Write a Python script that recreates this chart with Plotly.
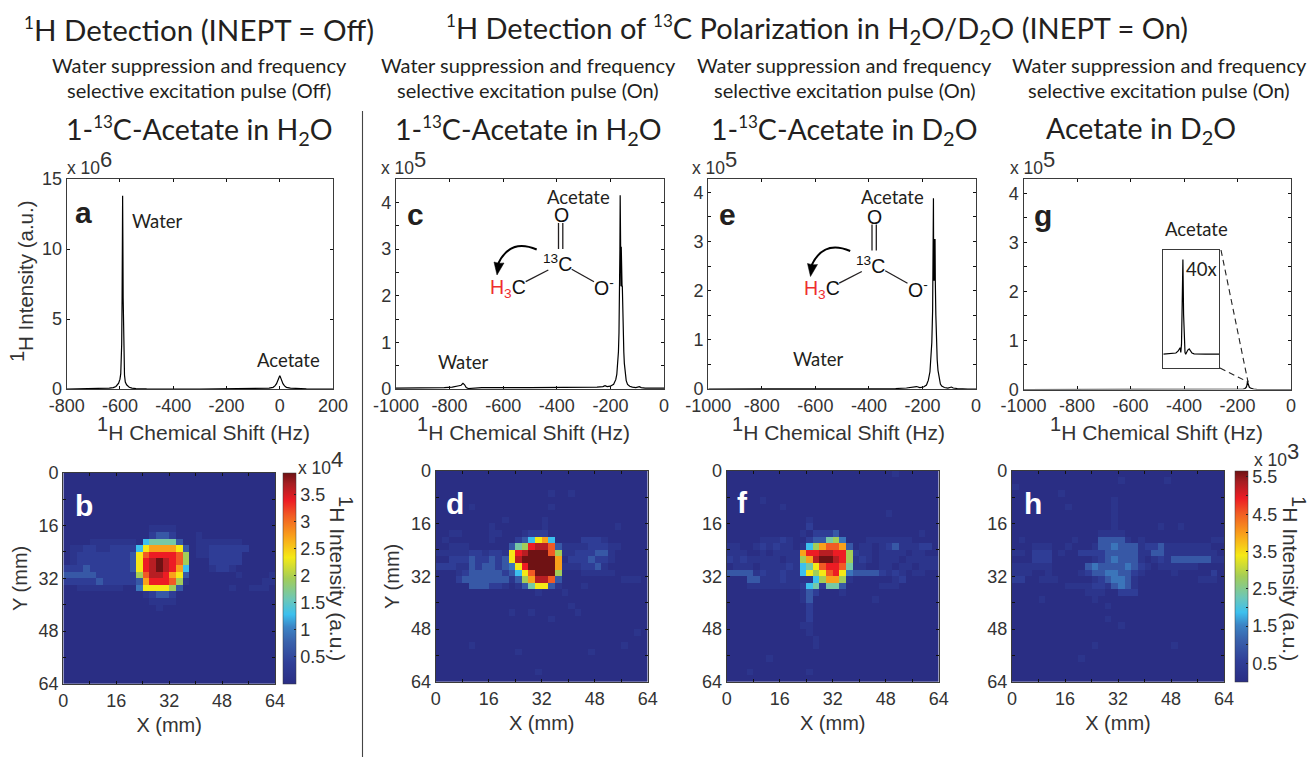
import plotly.graph_objects as go

W, H = 1309, 757
TICK_FONT = "Liberation Sans"
TEXT_FONT = "Lato"
INK = "#231f20"
AXIS = "#3a3a3a"

# ---------- spectra (Hz, intensity in the panel's axis units) ----------
freq_a = [-800,-720,-670,-640,-625,-615,-605,-600,-597,-595,-593.5,-592,-591,-590,-589,-588,-586.5,-585,-583,-580,-575,-565,-555,-540,-500,-300,-100,-60,-40,-25,-18,-12,-8,-5,-3,-1,0,1,3,5,8,12,18,25,40,60,100,200]
inten_a = [0,0.01,0.03,0.06,0.1,0.18,0.42,0.7,1.1,1.8,3.2,6.5,10.5,13.8,10.5,6.5,3.2,1.8,1.0,0.5,0.3,0.12,0.06,0.03,0.01,0,0.01,0.03,0.06,0.12,0.22,0.38,0.56,0.72,0.83,0.92,0.95,0.92,0.83,0.72,0.56,0.38,0.22,0.12,0.06,0.03,0.01,0]

freq_c = [-1000,-900,-820,-790,-775,-765,-757,-750,-744,-738,-730,-715,-680,-500,-350,-250,-228,-220,-212,-200,-188,-180,-176,-172,-170,-168,-166,-164.5,-163.5,-162.5,-161.5,-160.5,-159.5,-158.5,-157.5,-156.5,-155.5,-154,-152,-150,-148,-145,-141,-136,-128,-118,-105,-92,-85,-70,-30,0]
inten_c = [0.02,0.02,0.03,0.04,0.05,0.07,0.08,0.12,0.09,0.03,0.01,0.02,0.03,0.03,0.03,0.04,0.05,0.07,0.05,0.06,0.1,0.2,0.32,0.55,0.8,1.2,2.0,3.0,4.15,2.2,3.05,2.2,3.05,2.2,3.05,2.2,2.2,1.6,1.1,0.8,0.55,0.32,0.18,0.1,0.06,0.04,0.03,0.05,0.03,0.02,0.02,0.02]

freq_e = [-1000,-800,-500,-300,-260,-235,-222,-210,-196,-185,-178,-172,-168,-165,-162,-160,-159,-158,-157,-156,-155,-154,-153,-152,-150,-148,-145,-142,-138,-133,-128,-118,-105,-92,-85,-70,-30,0]
inten_e = [0,0,0,0.01,0.02,0.03,0.05,0.03,0.04,0.08,0.18,0.35,0.6,0.95,1.6,2.4,3.88,2.2,3.05,2.2,3.05,2.2,3.05,2.2,1.5,1.0,0.6,0.38,0.2,0.1,0.06,0.03,0.02,0.04,0.02,0.01,0,0]

freq_g = [-1000,-600,-300,-190,-178,-172,-168,-165,-163,-162,-161,-159,-156,-152,-147,-140,-125,-100,0]
inten_g = [0,0,0,0,0.01,0.02,0.04,0.08,0.13,0.18,0.13,0.08,0.05,0.03,0.02,0.01,0,0,0]

freq_inset = [-190,-180,-172,-169,-167,-166,-165,-164,-163,-162,-161,-160,-159,-158,-156.5,-155,-153,-151,-149,-146,-142,-130,-110]
inten_inset = [0.116,0.118,0.125,0.14,0.16,0.17,0.13,0.2,0.55,0.92,0.45,0.14,0.13,0.115,0.135,0.15,0.16,0.145,0.125,0.118,0.116,0.116,0.116]

# ---------- intensity maps: 32 x 32 voxels, one level code per voxel ----------
level_key = "0123456789abcd"
level_value = [0.0,0.04,0.09,0.17,0.24,0.33,0.42,0.5,0.6,0.7,0.8,0.87,0.93,1.0]
Z = "00000000 00000000 00000000 00000000"

map_b = [Z,Z,Z,Z,Z,Z,Z,Z,
 "00000000 00000111 10000000 00000000",
 "00000000 00000233 20001000 00000000",
 "00001111 11105666 63001111 11100000",
 "01122112 22258999 98301122 22220000",
 "01222222 2238abbb ba701122 22200000",
 "01222222 2238bcdc ba700022 22200000",
 "22232222 2238bcdc b9500012 21000000",
 "33333222 2227accb 98300000 00100001",
 "22222322 22239bbb a7100000 00000011",
 "00111111 10048888 73000000 01001110",
 "00000000 00001233 20000000 00000000",
 "00000000 00000111 10000000 00000000",
 "00000000 00000010 00000000 00000000",
 Z,Z,Z,Z,Z,Z,Z,Z,Z,Z,Z]

map_d = [Z,Z,Z,
 "00000000 00000000 01001000 00000000",
 Z,
 "00000100 00000000 01000000 00000000",
 Z,
 "00000000 00100000 10000000 00000000",
 "00000000 10000000 10000000 00010000",
 "00110000 11000122 20000000 00000000",
 "01000000 10002358 95000022 21000000",
 "00111000 000367bc ca311112 22110000",
 "11111221 2218bcdd da711222 33100000",
 "00222322 3238cddd dd902223 22100000",
 "22211323 32348bdd dd911122 31000000",
 "00012333 332358ad dd700011 11100000",
 "00023333 3331379c ca300000 00001110",
 "00000333 22101368 83100010 00000000",
 "00000000 00000001 00010000 00000000",
 Z,
 "00000000 00000000 00001000 00000000",
 "00000000 00010010 00000100 00000000",
 "00000000 00000000 01000000 00000000",
 Z,
 "00000000 00000000 00000000 00000010",
 Z,
 "00000100 00000000 00000000 00001000",
 "00000000 00001000 00000001 00000000",
 Z,Z,
 "00000000 00000001 00000000 00000000",
 Z]

map_f = [
 "00000000 00000000 00000000 01000000",
 Z,Z,Z,
 "00000100 00000000 00000000 00000000",
 "00000000 10000000 00000000 00000000",
 "00000000 00000000 00000000 10000000",
 "00000000 00001000 00000000 00000000",
 "00000000 00002000 00000000 00000000",
 "00000000 00010222 30000000 00000100",
 "00000111 21002336 74000111 11110000",
 "11001212 1101579a a9301101 23111220",
 "11100101 1119bbcc bb721101 11101100",
 "21211111 01179cdd cb712101 11011111",
 "01110111 121568ab ba611001 10110111",
 "33331211 2115878a b8433332 12101100",
 "00033111 21111579 97100000 01200000",
 "00011111 11125626 63000001 11000000",
 "00000000 00013200 01000000 00000000",
 "00000000 00013000 00000010 00000000",
 "00000000 00002000 00000000 00000000",
 "00000000 00002000 00000000 00000000",
 "00000000 00002000 00000000 00000000",
 "00000000 00011000 00000000 00000000",
 "00000000 00001000 00000000 00000000",
 "00000000 00000100 00000000 00000000",
 "00000000 00000100 00000000 00000000",
 Z,
 "00000010 00000000 00000000 00000000",
 Z,
 "00010000 00001000 00000000 00000000",
 Z]

map_h = [Z,
 "00000000 00000000 10000001 00000000",
 "10000000 00000000 00000000 00000000",
 "00000001 00000000 00000000 00000000",
 "00000000 00000001 00000000 00000000",
 "00000000 10000001 00000000 00000000",
 "00000000 00000001 00000000 00000000",
 "00000000 00000001 00000000 00000000",
 "00000000 00000001 00000010 01000000",
 "00000000 00000111 10000000 00000000",
 "01000000 01000333 31010000 00000011",
 "00011100 10001334 33312231 11111100",
 "11022201 00222233 33311331 11111110",
 "00022200 00001234 33310121 33333311",
 "11111100 00034333 34321011 11110000",
 "11100100 00123344 33210000 10000020",
 "22001110 00001234 43100000 00001110",
 "00000000 11112213 43100000 00000000",
 "00000000 00011100 22200000 00000000",
 "00001000 00001000 00000000 00000000",
 "00000000 00000010 00000000 00000000",
 Z,
 "00000000 00000010 00000000 00000000",
 "00000000 00000000 10000000 00000000",
 Z,Z,
 "00000000 00001000 00000000 10000000",
 Z,
 "00000000 00100000 00000000 00000000",
 Z,Z,Z]

jet_scale = [[0,"#2a2e84"],[0.1,"#303f98"],[0.2,"#3a62ac"],[0.27,"#3c84c5"],[0.33,"#3cc0ee"],[0.4,"#6cc7b8"],
             [0.5,"#a3cd58"],[0.6,"#f5e916"],[0.7,"#f9a11b"],[0.8,"#f15a24"],[0.87,"#ed1c24"],[0.95,"#a51e22"],[1,"#6f1214"]]

def px(x): return x / W
def py(y): return 1 - y / H
def sup(s, size): return f'<sup><span style="font-size:{size}px">{s}</span></sup>'

def decode(rows, zmax):
    out = []
    for r in rows:
        cells = r.replace(" ", "")
        assert len(cells) == 32, r
        out.append([level_value[level_key.index(c)] * zmax for c in cells])
    assert len(out) == 32, len(rows)
    return out

fig = go.Figure()
layout = dict(width=W, height=H, margin=dict(l=0, r=0, t=0, b=0, autoexpand=False), paper_bgcolor="white",
              plot_bgcolor="white", showlegend=False)
annots, shapes = [], []

def text(x, y, s, size, font=TEXT_FONT, color=INK, angle=0, anchor="center"):
    annots.append(dict(x=px(x), y=py(y), xref="paper", yref="paper", text=s, showarrow=False,
                       xanchor=anchor, yanchor="middle", textangle=angle,
                       font=dict(family=font, size=size, color=color)))

def seg(x0, y0, x1, y1, color=INK, width=1.3, dash=None):
    shapes.append(dict(type="line", xref="paper", yref="paper", x0=px(x0), y0=py(y0), x1=px(x1), y1=py(y1),
                       line=dict(color=color, width=width, dash=dash or "solid")))

def axis_pair(i, x0, x1, y0, y1, xa, ya):
    xn, yn = f"xaxis{i}", f"yaxis{i}"
    base = dict(showgrid=False, zeroline=False, showline=True, linecolor=AXIS, linewidth=1.2, mirror="ticks",
                ticks="inside", ticklen=3, tickcolor="#111", tickwidth=1.2,
                tickfont=dict(family=TICK_FONT, size=18, color="#333"), layer="above traces")
    layout[xn] = {**base, "domain": [px(x0), px(x1)], "anchor": f"y{i}", **xa}
    layout[yn] = {**base, "domain": [py(y1), py(y0)], "anchor": f"x{i}", **ya}

def spectrum(i, x0, x1, y0, y1, fr, ints, xr, yr, xt, yt, yl):
    fig.add_trace(go.Scatter(x=fr, y=ints, mode="lines", line=dict(color="#000", width=1.2),
                             xaxis=f"x{i}", yaxis=f"y{i}", hoverinfo="skip"))
    xa = dict(range=xr, tickvals=xt, ticktext=[str(v) for v in xt])
    ya = dict(range=yr, tickvals=yt, ticktext=yl)
    axis_pair(i, x0, x1, y0, y1, xa, ya)

def image(i, x0, x1, y0, y1, z, zmax, cbar=None, ylabel=True):
    tr = dict(z=z, x0=1, dx=2, y0=1, dy=2, zmin=0, zmax=zmax, colorscale=jet_scale,
              xaxis=f"x{i}", yaxis=f"y{i}", hoverinfo="skip", showscale=bool(cbar))
    if cbar:
        tr["colorbar"] = cbar
    fig.add_trace(go.Heatmap(**tr))
    ticks = [0, 8, 16, 24, 32, 40, 48, 56, 64]
    labels = ["0", "", "16", "", "32", "", "48", "", "64"]
    tfont = dict(family=TICK_FONT, size=20, color="#333")
    ya = dict(range=[64, 0], tickvals=ticks, ticktext=labels)
    if ylabel:
        ya["title"] = dict(text="Y (mm)", font=tfont, standoff=5)
    axis_pair(i, x0, x1, y0, y1,
              dict(range=[0, 64], tickvals=ticks, ticktext=labels,
                   title=dict(text="X (mm)", font=tfont, standoff=8)), ya)

def cbar_opts(x, y0, y1, vals, labels):
    return dict(x=px(x), xanchor="left", xpad=0, y=py(y1), yanchor="bottom", ypad=0,
                lenmode="pixels", len=y1 - y0, thickness=13, outlinewidth=0.5, outlinecolor=AXIS,
                ticks="inside", ticklen=2, tickcolor="#222", tickvals=vals, ticktext=labels,
                tickfont=dict(family=TICK_FONT, size=18, color="#333"))

# ---------- spectra panels ----------
x_ticks_a = [-800, -600, -400, -200, 0, 200]
x_ticks_c = [-1000, -800, -600, -400, -200, 0]
half_ticks = [0, 0.5, 1, 1.5, 2, 2.5, 3, 3.5, 4, 4.5]
half_labels = ["0", "", "1", "", "2", "", "3", "", "4", ""]
half_ticks2 = half_ticks[:-1]
half_labels2 = half_labels[:-1]
spectrum(1, 66.7, 333, 179, 389, freq_a, inten_a, [-800, 200], [0, 15], x_ticks_a, [0, 5, 10, 15],
         ["0", "5", "10", "15"])
spectrum(2, 396, 664, 179, 389, freq_c, inten_c, [-1000, 0], [0, 4.5], x_ticks_c, half_ticks, half_labels)
spectrum(3, 708.3, 976, 179, 389, freq_e, inten_e, [-1000, 0], [0, 4.27], x_ticks_c, half_ticks2, half_labels2)
spectrum(4, 1023.5, 1291, 179, 389.5, freq_g, inten_g, [-1000, 0], [0, 4.29], x_ticks_c, half_ticks2, half_labels2)
for cx in [203, 523, 838, 1156]:
    text(cx, 429, sup("1", 20) + "H Chemical Shift (Hz)", 21, TICK_FONT, "#333")
text(21, 281, sup("1", 20) + "H Intensity (a.u.)", 20.5, TICK_FONT, "#333", angle=-90)

# ---------- intensity maps ----------
image(5, 63.3, 275, 472.7, 684, decode(map_b, 3.9), 3.9,
      cbar_opts(282.7, 472.7, 684, [0.5, 1, 1.5, 2, 2.5, 3, 3.5], ["0.5", "1", "1.5", "2", "2.5", "3", "3.5"]))
image(6, 435.7, 647.7, 470.7, 682, decode(map_d, 3.9), 3.9)
image(7, 726.7, 938.7, 470.7, 682, decode(map_f, 3.9), 3.9, ylabel=False)
image(8, 1012, 1224, 470.7, 682, decode(map_h, 5.66), 5.66,
      cbar_opts(1235, 470.7, 682, [0.5, 1, 1.5, 2, 2.5, 3, 3.5, 4, 4.5, 5, 5.5],
                ["0.5", "", "1.5", "", "2.5", "", "3.5", "", "4.5", "", "5.5"]), ylabel=False)

# ---------- inset of panel g ----------
fig.add_trace(go.Scatter(x=freq_inset, y=inten_inset, mode="lines", line=dict(color="#000", width=1.2),
                         xaxis="x9", yaxis="y9", hoverinfo="skip"))
plain = dict(showticklabels=False, ticks="", mirror=True)
axis_pair(9, 1163.3, 1219.3, 250, 367.7, dict(range=[-190, -110], **plain), dict(range=[0, 1], **plain))
seg(1221, 250, 1248, 382, color="#222", width=1.1, dash="6px,4px")
seg(1220, 368, 1248, 382, color="#222", width=1.1, dash="6px,4px")

# ---------- headings ----------
text(199, 29, sup("1", 17) + "H Detection (INEPT = Off)", 29.5)
text(817, 29, sup("1", 17) + "H Detection of " + sup("13", 17) + "C Polarization in H<sub>2</sub>O/D<sub>2</sub>O (INEPT = On)", 29)
for cx, state in [(199, "Off"), (528, "On"), (845, "On"), (1159, "On")]:
    text(cx, 65, "Water suppression and frequency", 20)
    text(cx, 90, f"selective excitation pulse ({state})", 20)
text(199, 130, "1-" + sup("13", 17) + "C-Acetate in H<sub>2</sub>O", 28.5)
text(528, 130, "1-" + sup("13", 17) + "C-Acetate in H<sub>2</sub>O", 28.5)
text(845, 130, "1-" + sup("13", 17) + "C-Acetate in D<sub>2</sub>O", 28.5)
text(1141, 130, "Acetate in D<sub>2</sub>O", 28.5)
seg(362.5, 111, 362.5, 757, color="#444", width=1.1)

# ---------- exponents and colour bar labels ----------
def exponent(x, y, n):
    text(x, y, "x 10" + sup(n, 22), 17.5, TICK_FONT, "#333")
exponent(89, 163, "6")
exponent(403, 163, "5")
exponent(715, 163, "5")
exponent(1032, 163, "5")
exponent(320, 462, "4")
exponent(1276, 454, "3")
text(342, 578, sup("1", 20) + "H Intensity (a.u.)", 21, TICK_FONT, "#333", angle=90)
text(1295, 578, sup("1", 20) + "H Intensity (a.u.)", 21, TICK_FONT, "#333", angle=90)

# ---------- panel letters and peak names ----------
for x, y, s, c in [(83, 213, "a", "#231f20"), (415, 214, "c", "#231f20"), (727, 214, "e", "#231f20"), (1043, 215, "g", "#231f20"),
                   (84, 505, "b", "white"), (455, 503, "d", "white"), (742, 502, "f", "white"), (1033, 503, "h", "white")]:
    text(x, y, f"<b>{s}</b>", 30, TICK_FONT, c)
text(157, 221, "Water", 18.5)
text(288, 360, "Acetate", 18.5)
text(578, 197, "Acetate", 18.5)
text(463, 362, "Water", 18.5)
text(892, 197, "Acetate", 18.5)
text(818, 359, "Water", 18.5)
text(1196, 229, "Acetate", 18.5)
text(1201, 269, "40x", 18.5)

# ---------- acetate structure, drawn twice ----------
def structure(dx, dy):
    f = "Liberation Sans"
    text(561 + dx, 215 + dy, "O", 19.5, f, "#111")
    text(557 + dx, 263 + dy, "<sup>13</sup>C", 19.5, f, "#111")
    text(508 + dx, 288 + dy, '<span style="color:#ee2e2e">H<sub>3</sub></span>C', 19.5, f, "#111")
    text(604 + dx, 287 + dy, "O<sup>-</sup>", 19.5, f, "#111")
    seg(558.5 + dx, 223 + dy, 558.5 + dx, 249 + dy)
    seg(562.8 + dx, 223 + dy, 562.8 + dx, 249 + dy)
    seg(525.7 + dx, 281.7 + dy, 548.3 + dx, 270 + dy)
    seg(571.7 + dx, 269.3 + dy, 594 + dx, 281.7 + dy)
    def p(x, y): return f"{px(x + dx):.5f} {py(y + dy):.5f}"
    shapes.append(dict(type="path", xref="paper", yref="paper",
                       path=f"M {p(536.7, 249.5)} Q {p(510, 238)} {p(498, 264)}",
                       line=dict(color="#000", width=2)))
    shapes.append(dict(type="path", xref="paper", yref="paper",
                       path=f"M {p(494, 262)} L {p(497, 275)} L {p(504, 263)} Q {p(499, 264)} {p(494, 262)} Z",
                       fillcolor="#000", line=dict(color="#000", width=0.5)))

structure(0, 0)
structure(313.5, 1.5)

layout["annotations"] = annots
layout["shapes"] = shapes
fig.update_layout(**layout)
fig.write_html("out.html", config={"displayModeBar": False},
               post_script="document.body.style.margin='0';document.documentElement.style.overflow='hidden';")
